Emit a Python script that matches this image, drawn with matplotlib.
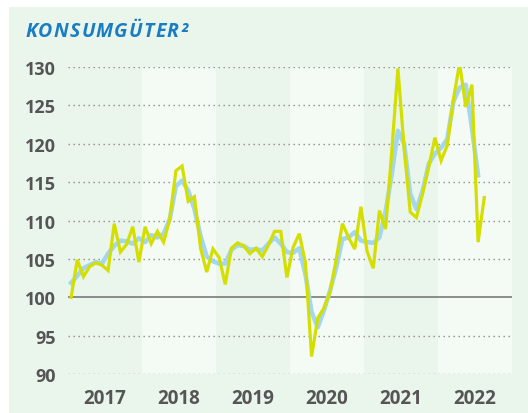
import matplotlib
matplotlib.use("Agg")
import matplotlib.pyplot as plt
from matplotlib.patches import Rectangle
import numpy as np

years = ["2017", "2018", "2019", "2020", "2021", "2022"]
y_ticks = [90, 95, 100, 105, 110, 115, 120, 125, 130]
title = "KONSUMGÜTER²"

# monthly values from Jan 2017
monthly = [100.0, 104.9, 102.7, 104.0, 104.5, 104.2, 103.5, 109.6, 105.9, 106.9, 109.2, 104.6,
           109.2, 107.0, 108.6, 107.2, 110.2, 116.5, 117.1, 112.5, 113.1, 106.4, 103.3, 106.3,
           105.2, 101.7, 106.4, 107.1, 106.7, 105.7, 106.4, 105.3, 106.8, 108.6, 108.6, 102.6,
           106.5, 108.3, 104.5, 92.3, 97.3, 98.6, 100.7, 105.0, 109.6, 107.8, 106.3, 111.8,
           106.0, 103.8, 111.3, 108.9, 119.0, 129.8, 119.5, 111.1, 110.4, 113.5, 117.0, 120.8,
           117.8, 119.8, 125.8, 130.5, 124.8, 127.7, 107.2, 113.0]

smoothed = [101.9, 102.8, 103.8, 104.2, 104.6, 104.4, 105.7, 106.7, 107.4, 107.3, 107.0, 107.7,
            107.2, 108.1, 107.8, 108.3, 110.2, 114.5, 115.2, 113.9, 111.5, 108.0, 105.3, 104.7,
            104.4, 104.4, 106.2, 106.8, 106.7, 106.2, 106.3, 106.1, 107.0, 107.8, 107.0, 105.9,
            105.8, 106.4, 103.0, 98.1, 96.1, 98.3, 100.9, 103.9, 107.6, 107.8, 108.5, 107.4,
            107.2, 107.1, 107.8, 111.2, 116.0, 121.7, 120.0, 113.5, 111.5, 113.9, 117.4, 118.7,
            119.5, 120.6, 125.5, 127.3, 127.7, 122.0, 115.9]

W, H = 528, 414
fig = plt.figure(figsize=(W / 100, H / 100), dpi=100)
fig.patch.set_facecolor("white")

panel = "#eaf5ec"
light = "#f4faf4"
fig.patches.append(Rectangle((9 / W, 0), 1 - 9 / W, 1 - 8 / H, transform=fig.transFigure,
                             facecolor=panel, edgecolor="none", zorder=-10))

left, right = 68, 512
top, bottom = 68, 375.2
ax = fig.add_axes([left / W, 1 - bottom / H, (right - left) / W, (bottom - top) / H])
ax.set_facecolor("none")

nyears = len(years)
ax.set_xlim(0, 12 * nyears)
ax.set_ylim(90, 130)

for k in range(nyears):
    if k % 2 == 1:
        ax.axvspan(12 * k, 12 * (k + 1), color=light, zorder=0, lw=0)

for v in y_ticks:
    if v == 100:
        ax.axhline(v, color="#7a7a7a", lw=1.2, zorder=1)
    else:
        ax.axhline(v, color="#8a8a8a", lw=1.0, ls=(0, (1.0, 2.6)), zorder=1)

x_m = np.arange(len(monthly)) + 0.5
x_s = np.arange(len(smoothed)) + 0.5
ax.plot(x_s, smoothed, color="#a3d6ef", lw=3.2, zorder=3, solid_joinstyle="round")
ax.plot(x_m, monthly, color="#d4df00", lw=2.3, zorder=4, solid_joinstyle="miter")

for s in ax.spines.values():
    s.set_visible(False)
ax.set_xticks([12 * k + 6 for k in range(nyears)])
ax.set_xticklabels(years)
ax.set_yticks(y_ticks)
ax.set_yticklabels([str(v) for v in y_ticks])
ax.tick_params(length=0, colors="#555555")
for lab in ax.get_yticklabels():
    lab.set_fontfamily("Open Sans")
    lab.set_fontweight("bold")
    lab.set_fontsize(13)
for lab in ax.get_xticklabels():
    lab.set_fontfamily("Open Sans")
    lab.set_fontweight("bold")
    lab.set_fontsize(13.5)
ax.tick_params(axis="y", pad=9)
ax.tick_params(axis="x", pad=10)

# title with letter tracking
renderer = fig.canvas.get_renderer()
xpix = 25.0
for ch in title:
    t = fig.text(xpix / W, 1 - 37 / H, ch, color="#1a7dc2", fontsize=14, fontweight="bold",
                 fontstyle="italic", family="Open Sans", ha="left", va="baseline")
    bb = t.get_window_extent(renderer)
    xpix += bb.width + 1.2

fig.savefig("out.png", dpi=100, facecolor=fig.get_facecolor())
